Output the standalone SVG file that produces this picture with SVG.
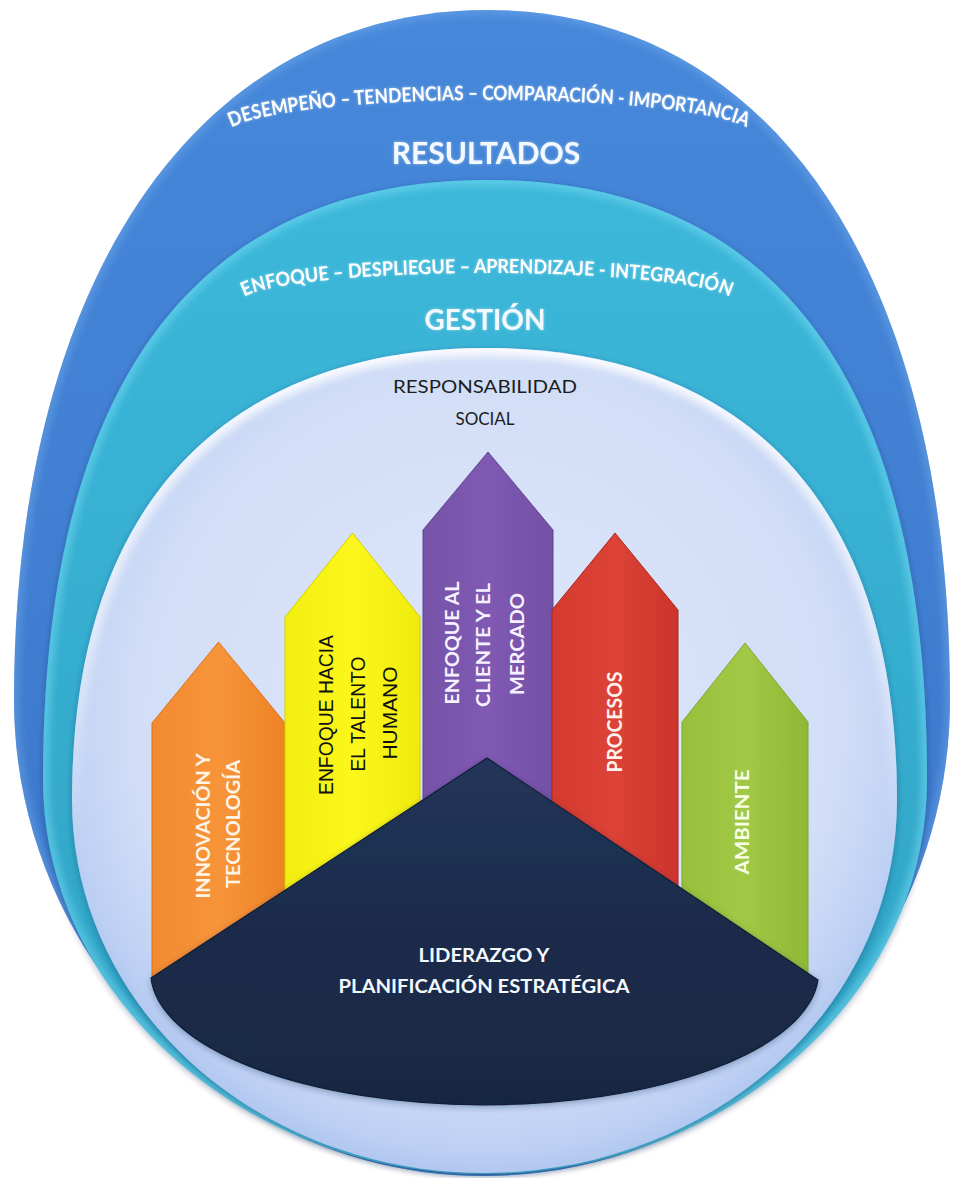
<svg xmlns="http://www.w3.org/2000/svg" width="954" height="1178" viewBox="0 0 954 1178">
  <defs>
    <style>
      .arc { font-family: Lato, "Open Sans", sans-serif; font-weight: 700; fill: #ffffff; }
      .title { font-family: Lato, "Open Sans", sans-serif; font-weight: 700; fill: #f4f9ff; text-anchor: middle; }
      .vbold { font-family: Lato, "Open Sans", sans-serif; font-weight: 700; text-anchor: middle; }
      .vreg { font-family: "Liberation Sans", Arial, sans-serif; font-weight: 400; fill: #111111; text-anchor: middle; }
      .dark { font-family: Lato, "Open Sans", sans-serif; font-weight: 400; fill: #1c1c1c; text-anchor: middle; }
    </style>

    <!-- shape outlines reused for fills, clips and rims -->
    <path id="shpBlue" d="M487,10 C205,10 14,270 14,700 C14,960 230,1176 484,1176 C740,1176 950,960 950,700 C950,270 770,10 487,10 Z"/>
    <path id="shpTeal" d="M487,180 C230,180 43,340 43,780 C43,1000 250,1174 484,1174 C720,1174 927,1000 927,780 C927,340 745,180 487,180 Z"/>
    <path id="shpPale" d="M486,348 C250,348 72,480 72,800 C72,1010 260,1173 484,1173 C710,1173 897,1010 897,800 C897,480 722,348 486,348 Z"/>

    <clipPath id="clipBlue"><use href="#shpBlue"/></clipPath>
    <clipPath id="clipTeal"><use href="#shpTeal"/></clipPath>
    <clipPath id="clipPale"><use href="#shpPale"/></clipPath>

    <linearGradient id="gBlue" x1="0" y1="0" x2="0" y2="1">
      <stop offset="0" stop-color="#4688da"/>
      <stop offset="1" stop-color="#3a74c8"/>
    </linearGradient>
    <linearGradient id="gTeal" x1="0" y1="0" x2="0" y2="1">
      <stop offset="0" stop-color="#3cb8da"/>
      <stop offset="1" stop-color="#2fa2c3"/>
    </linearGradient>
    <radialGradient id="gPale" cx="486" cy="720" r="470" gradientUnits="userSpaceOnUse">
      <stop offset="0" stop-color="#dfe7fa"/>
      <stop offset="0.75" stop-color="#d2def7"/>
      <stop offset="0.92" stop-color="#bccff3"/>
      <stop offset="1" stop-color="#a8c1ed"/>
    </radialGradient>
    <linearGradient id="gRim" x1="0" y1="0" x2="0" y2="1">
      <stop offset="0" stop-color="#ffffff" stop-opacity="0.9"/>
      <stop offset="0.35" stop-color="#ffffff" stop-opacity="0.5"/>
      <stop offset="0.6" stop-color="#ffffff" stop-opacity="0"/>
    </linearGradient>
    <linearGradient id="gNavy" x1="0" y1="0" x2="0" y2="1">
      <stop offset="0" stop-color="#22365a"/>
      <stop offset="0.5" stop-color="#1b2b4a"/>
      <stop offset="1" stop-color="#192843"/>
    </linearGradient>

    <linearGradient id="gOrange" x1="0" y1="0" x2="1" y2="0">
      <stop offset="0" stop-color="#f28a30"/>
      <stop offset="0.5" stop-color="#f7943a"/>
      <stop offset="1" stop-color="#ee8326"/>
    </linearGradient>
    <linearGradient id="gYellow" x1="0" y1="0" x2="1" y2="0">
      <stop offset="0" stop-color="#f2ee10"/>
      <stop offset="0.5" stop-color="#fbf71c"/>
      <stop offset="1" stop-color="#efeb0c"/>
    </linearGradient>
    <linearGradient id="gPurple" x1="0" y1="0" x2="1" y2="0">
      <stop offset="0" stop-color="#7653a8"/>
      <stop offset="0.5" stop-color="#8059b3"/>
      <stop offset="1" stop-color="#7350a5"/>
    </linearGradient>
    <linearGradient id="gRed" x1="0" y1="0" x2="1" y2="0">
      <stop offset="0" stop-color="#d43a2f"/>
      <stop offset="0.5" stop-color="#dc4236"/>
      <stop offset="1" stop-color="#cc352c"/>
    </linearGradient>
    <linearGradient id="gGreen" x1="0" y1="0" x2="1" y2="0">
      <stop offset="0" stop-color="#97c03c"/>
      <stop offset="0.5" stop-color="#a2c945"/>
      <stop offset="1" stop-color="#8fb836"/>
    </linearGradient>

    <filter id="soft" x="-5%" y="-5%" width="110%" height="110%">
      <feGaussianBlur stdDeviation="4"/>
    </filter>
    <filter id="drop" x="-10%" y="-10%" width="120%" height="120%">
      <feDropShadow dx="0" dy="2" stdDeviation="3" flood-color="#0d2a55" flood-opacity="0.35"/>
    </filter>
    <filter id="glow" x="-10%" y="-30%" width="120%" height="160%">
      <feGaussianBlur in="SourceAlpha" stdDeviation="1.6" result="b"/>
      <feFlood flood-color="#ffffff" flood-opacity="0.45"/>
      <feComposite in2="b" operator="in" result="g"/>
      <feMerge><feMergeNode in="g"/><feMergeNode in="SourceGraphic"/></feMerge>
    </filter>

    <!-- baselines for the curved captions -->
    <path id="arcResultados" d="M224,136 A265,36 0 0 1 754,136"/>
    <path id="arcGestion" d="M239,303 A248,30 0 0 1 735,303"/>
  </defs>

  <rect width="954" height="1178" fill="#ffffff"/>

  <!-- outer ring: results -->
  <g id="ring-resultados">
    <use href="#shpBlue" fill="url(#gBlue)"/>
    <use href="#shpBlue" fill="none" stroke="#7db3f0" stroke-width="8" opacity="0.5" clip-path="url(#clipBlue)" filter="url(#soft)"/>
    <text class="arc" font-size="20" filter="url(#glow)"><textPath href="#arcResultados" startOffset="50%" text-anchor="middle" textLength="520" lengthAdjust="spacingAndGlyphs">DESEMPEÑO – TENDENCIAS – COMPARACIÓN - IMPORTANCIA</textPath></text>
    <text class="title" x="486" y="164" font-size="30" filter="url(#glow)">RESULTADOS</text>
  </g>

  <!-- middle ring: management -->
  <g id="ring-gestion">
    <use href="#shpTeal" fill="url(#gTeal)" filter="url(#drop)"/>
    <use href="#shpTeal" fill="none" stroke="#7fe0f8" stroke-width="10" opacity="0.55" clip-path="url(#clipTeal)" filter="url(#soft)"/>
    <text class="arc" font-size="19.5" filter="url(#glow)"><textPath href="#arcGestion" startOffset="50%" text-anchor="middle" textLength="490" lengthAdjust="spacingAndGlyphs">ENFOQUE – DESPLIEGUE – APRENDIZAJE - INTEGRACIÓN</textPath></text>
    <text class="title" x="485" y="330" font-size="28" filter="url(#glow)">GESTIÓN</text>
  </g>

  <!-- inner field: social responsibility -->
  <g id="ring-responsabilidad">
    <use href="#shpPale" fill="url(#gPale)" filter="url(#drop)"/>
    <use href="#shpPale" fill="none" stroke="url(#gRim)" stroke-width="16" clip-path="url(#clipPale)" filter="url(#soft)"/>
    <text class="dark" x="485" y="393" font-size="17" textLength="184" lengthAdjust="spacingAndGlyphs">RESPONSABILIDAD</text>
    <text class="dark" x="485" y="425" font-size="17">SOCIAL</text>
  </g>

  <!-- pillars -->
  <g id="pillar-innovacion">
    <polygon points="152,978 152,723 218.5,642 285,723 285,978" fill="url(#gOrange)" stroke="#d9731f" stroke-width="1"/>
    <g class="vbold" fill="#fff4e6" font-size="19">
      <text transform="translate(210,826) rotate(-90)" textLength="145" lengthAdjust="spacingAndGlyphs">INNOVACIÓN Y</text>
      <text transform="translate(240,824) rotate(-90)" textLength="128" lengthAdjust="spacingAndGlyphs">TECNOLOGÍA</text>
    </g>
  </g>

  <g id="pillar-talento">
    <polygon points="285,978 285,617 352.5,533 420,617 420,978" fill="url(#gYellow)" stroke="#d6d000" stroke-width="1"/>
    <g class="vreg" font-size="20">
      <text transform="translate(333,715) rotate(-90)" textLength="160" lengthAdjust="spacingAndGlyphs">ENFOQUE HACIA</text>
      <text transform="translate(365,714) rotate(-90)" textLength="115" lengthAdjust="spacingAndGlyphs">EL TALENTO</text>
      <text transform="translate(397,713) rotate(-90)" textLength="93" lengthAdjust="spacingAndGlyphs">HUMANO</text>
    </g>
  </g>

  <g id="pillar-cliente">
    <polygon points="423,978 423,530 488,452 553,530 553,978" fill="url(#gPurple)" stroke="#5f4490" stroke-width="1"/>
    <g class="vbold" fill="#f6f1ff" font-size="19">
      <text transform="translate(459,643) rotate(-90)" textLength="123" lengthAdjust="spacingAndGlyphs">ENFOQUE AL</text>
      <text transform="translate(490,645) rotate(-90)" textLength="124" lengthAdjust="spacingAndGlyphs">CLIENTE Y EL</text>
      <text transform="translate(524,644) rotate(-90)" textLength="102" lengthAdjust="spacingAndGlyphs">MERCADO</text>
    </g>
  </g>

  <g id="pillar-procesos">
    <polygon points="552,978 552,610 615,533 678,610 678,978" fill="url(#gRed)" stroke="#a9281f" stroke-width="1"/>
    <text class="vbold" fill="#fff1ee" font-size="20" transform="translate(622,722) rotate(-90)" textLength="101" lengthAdjust="spacingAndGlyphs">PROCESOS</text>
  </g>

  <g id="pillar-ambiente">
    <polygon points="682,978 682,722 745,643 808,722 808,978" fill="url(#gGreen)" stroke="#7fa830" stroke-width="1"/>
    <text class="vbold" fill="#f8fde6" font-size="19" transform="translate(749,822) rotate(-90)" textLength="105" lengthAdjust="spacingAndGlyphs">AMBIENTE</text>
  </g>

  <!-- base: leadership -->
  <g id="base-liderazgo">
    <path d="M151,978 L487,758 L818,980 A334,133 0 0 1 151,978 Z" fill="url(#gNavy)" stroke="#121e33" stroke-width="1.2" stroke-linejoin="round" filter="url(#drop)"/>
    <text class="title" x="484" y="962" font-size="19" textLength="131" lengthAdjust="spacingAndGlyphs" fill="#eef2fa">LIDERAZGO Y</text>
    <text class="title" x="484" y="993" font-size="19" textLength="291" lengthAdjust="spacingAndGlyphs" fill="#eef2fa">PLANIFICACIÓN ESTRATÉGICA</text>
  </g>
</svg>
